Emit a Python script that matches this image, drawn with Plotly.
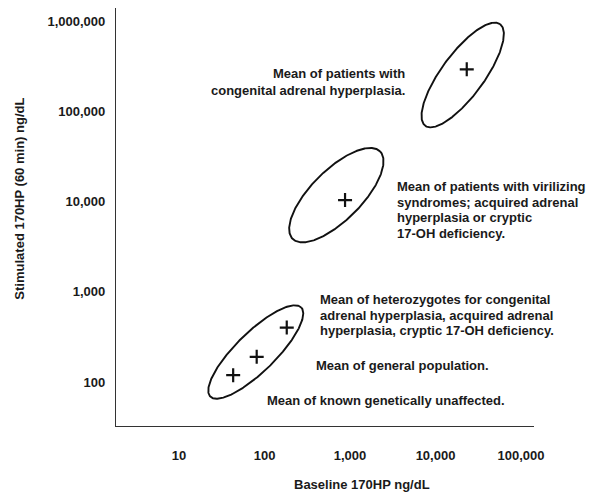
import numpy as np
import plotly.graph_objects as go

# ---- data ----
group_names = ["congenital adrenal hyperplasia", "virilizing syndromes", "heterozygotes",
               "general population", "known genetically unaffected"]
mean_baseline = [23200, 875, 182, 81, 43]          # ng/dL
mean_stimulated = [296000, 10450, 402, 190, 119]   # ng/dL

ellipse_center_x = [20800, 692, 79]
ellipse_center_y = [256000, 11860, 215]
ellipse_major = [0.701, 0.687, 0.707]   # semi-axis, decades
ellipse_minor = [0.237, 0.279, 0.219]   # semi-axis, decades
ellipse_angle = [53.6, 45.0, 44.4]      # degrees (display space)

x_tick_vals = [10, 100, 1000, 10000, 100000]
x_tick_text = ["10", "100", "1,000", "10,000", "100,000"]
y_tick_vals = [100, 1000, 10000, 100000, 1000000]
y_tick_text = ["100", "1,000", "10,000", "100,000", "1,000,000"]

label_lines = [
    ["Mean of patients with", "congenital adrenal hyperplasia."],
    ["Mean of patients with virilizing", "syndromes; acquired adrenal",
     "hyperplasia or cryptic", "17-OH deficiency."],
    ["Mean of heterozygotes for congenital", "adrenal hyperplasia, acquired adrenal",
     "hyperplasia, cryptic 17-OH deficiency."],
    ["Mean of general population."],
    ["Mean of known genetically unaffected."],
]

# ---- layout geometry (page body has an 8px margin) ----
OFF = 8
W, H = 595 - OFF, 493 - OFF
ml, mr, mt, mb = 116 - OFF, 61, 8 - OFF, 67.3
xr = [0.263, 5.152]
yr = [1.511, 6.152]
pw = W - ml - mr
ph = H - mt - mb
px_per_dec_x = pw / (xr[1] - xr[0])
px_per_dec_y = ph / (yr[1] - yr[0])
kx = px_per_dec_x / px_per_dec_y

FONT = "Liberation Sans"
TXT = "#1a1a1a"

fig = go.Figure()

t = np.linspace(0, 2 * np.pi, 361)
for cx, cy, a, b, ang in zip(ellipse_center_x, ellipse_center_y, ellipse_major,
                              ellipse_minor, ellipse_angle):
    th = np.radians(ang)
    u = a * np.cos(t) * np.cos(th) - b * np.sin(t) * np.sin(th)
    v = a * np.cos(t) * np.sin(th) + b * np.sin(t) * np.cos(th)
    lx = np.log10(cx) + u / kx
    ly = np.log10(cy) + v
    fig.add_trace(go.Scatter(x=10 ** lx, y=10 ** ly, mode="lines",
                             line=dict(color="#111111", width=1.9),
                             hoverinfo="skip", showlegend=False))

fig.add_trace(go.Scatter(x=mean_baseline, y=mean_stimulated, mode="markers",
                         text=group_names,
                         marker=dict(symbol="cross-thin", size=10,
                                     line=dict(color="#111111", width=2.2)),
                         showlegend=False))


def pxx(p):
    return (p - OFF - ml) / pw


def pxy(p):
    return (H - mb - (p - OFF)) / ph


# label placement (reference pixel positions of line centres)
label_pos = [
    (407, [73.3, 90.5], "right"),
    (395, [186, 202.3, 217.8, 233.5], "left"),
    (318, [299, 315, 330.7], "left"),
    (313.5, [365.5], "left"),
    (265, [400.5], "left"),
]
for lines, (x0, ys, anc) in zip(label_lines, label_pos):
    for line, yy in zip(lines, ys):
        fig.add_annotation(x=pxx(x0), y=pxy(yy), xref="paper", yref="paper",
                           text=line, showarrow=False, xanchor=anc, yanchor="middle",
                           font=dict(family=FONT, size=13, color=TXT, weight="bold"))

fig.add_annotation(x=pxx(362), y=pxy(484.5), xref="paper", yref="paper",
                   text="Baseline 170HP ng/dL", showarrow=False,
                   xanchor="center", yanchor="middle",
                   font=dict(family=FONT, size=13, color=TXT, weight="bold"))
fig.add_annotation(x=pxx(20), y=pxy(198.5), xref="paper", yref="paper",
                   text="Stimulated 170HP (60 min) ng/dL", showarrow=False,
                   textangle=-90, xanchor="center", yanchor="middle",
                   font=dict(family=FONT, size=13, color=TXT, weight="bold"))

axis_common = dict(showgrid=False, zeroline=False, showline=True,
                   linecolor="#333333", linewidth=1.2, ticks="", mirror=False,
                   tickfont=dict(family=FONT, size=13, color=TXT, weight="bold"))
fig.update_xaxes(type="log", range=xr, tickvals=x_tick_vals, ticktext=x_tick_text,
                 ticklabelstandoff=17, **axis_common)
fig.update_yaxes(type="log", range=yr, tickvals=y_tick_vals, ticktext=y_tick_text,
                 ticklabelstandoff=7, **axis_common)

fig.update_layout(width=W, height=H, margin=dict(l=ml, r=mr, t=mt, b=mb),
                  paper_bgcolor="white", plot_bgcolor="white",
                  font=dict(family=FONT, color=TXT), showlegend=False)

fig.write_html("out.html")
